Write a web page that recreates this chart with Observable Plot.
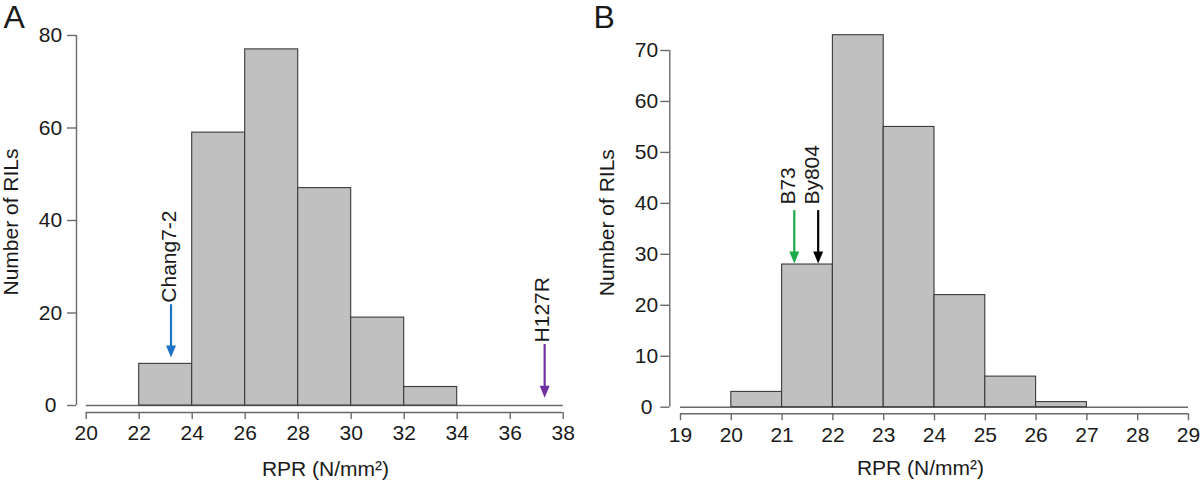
<!DOCTYPE html>
<html>
<head>
<meta charset="utf-8">
<script src="https://cdn.jsdelivr.net/npm/d3@7"></script>
<script src="https://cdn.jsdelivr.net/npm/@observablehq/plot@0.6"></script>
<style>
  body { margin: 0; background: #fff; }
  #wrap { display: flex; width: 1200px; height: 484px; overflow: hidden; }
  #wrap svg { display: block; flex: none; }
</style>
</head>
<body>
<div id="wrap"></div>
<script>
// ---------- Panel A data ----------
const binStartA = [22, 24, 26, 28, 30, 32];
const countA = [9, 59, 77, 47, 19, 4];
const binWidthA = 2;
const xTicksA = [20, 22, 24, 26, 28, 30, 32, 34, 36, 38];
const yTicksA = [0, 20, 40, 60, 80];
const parentNamesA = ["Chang7-2", "H127R"];
const parentRprA = [23.2, 37.3];
const arrowTopA = [20.5, 11.9];
const arrowTipA = [10.4, 1.7];
const parentColorsA = ["#1f72c4", "#7030a0"];

// ---------- Panel B data ----------
const binStartB = [20, 21, 22, 23, 24, 25, 26];
const countB = [3, 28, 73, 55, 22, 6, 1];
const binWidthB = 1;
const xTicksB = [19, 20, 21, 22, 23, 24, 25, 26, 27, 28, 29];
const yTicksB = [0, 10, 20, 30, 40, 50, 60, 70];
const parentNamesB = ["B73", "By804"];
const parentRprB = [21.24, 21.71];
const arrowTopB = [37.4, 37.4];
const arrowTipB = [28.2, 28.2];
const parentColorsB = ["#1aaa4a", "#000000"];

const yLabel = "Number of RILs";
const xLabel = "RPR (N/mm\u00B2)";

const FONT = "'Liberation Sans', Arial, Helvetica, sans-serif";
const axisColor = "#6a6a6a";
const textColor = "#1a1a1a";

// filled arrow head, tip at origin pointing down
const arrowHead = {
  draw(ctx) {
    const w = 5, l = 12;
    ctx.moveTo(0, 0);
    ctx.lineTo(-w, -l);
    ctx.lineTo(w, -l);
    ctx.closePath();
  }
};

function panel(cfg) {
  const bins = cfg.starts.map((s, i) => ({x1: s, x2: s + cfg.binWidth, n: cfg.counts[i]}));
  const ann = cfg.names.map((name, i) => ({
    name, x: cfg.rpr[i], top: cfg.top[i], tip: cfg.tip[i], color: cfg.colors[i]
  }));
  const xMin = cfg.xTicks[0], xMax = cfg.xTicks[cfg.xTicks.length - 1];
  const yMin = cfg.yTicks[0], yMax = cfg.yTicks[cfg.yTicks.length - 1];
  const frameBottom = cfg.height - cfg.marginBottom;

  const annMarks = ann.flatMap(a => [
    Plot.ruleX([a], {x: "x", y1: "top", y2: "tip", stroke: a.color, strokeWidth: 2.2, dy: -6}),
    Plot.dot([a], {x: "x", y: "tip", symbol: arrowHead, fill: a.color, stroke: "none", r: 5}),
    Plot.text([a], {x: "x", y: "top", text: "name", rotate: -90, textAnchor: "start",
      lineAnchor: "middle", dy: cfg.labelGap, dx: cfg.labelDx, fontSize: 21, fill: textColor})
  ]);

  return Plot.plot({
    width: cfg.width,
    height: cfg.height,
    marginLeft: cfg.marginLeft,
    marginRight: cfg.marginRight,
    marginTop: cfg.marginTop,
    marginBottom: cfg.marginBottom,
    style: {fontFamily: FONT, fontSize: "21px", color: textColor, background: "#fff", overflow: "visible"},
    x: {domain: [xMin, xMax], range: cfg.xRange},
    y: {domain: [yMin, yMax], range: cfg.yRange},
    marks: [
      // baseline at zero across full range
      Plot.ruleY([0], {x1: xMin, x2: xMax, stroke: axisColor, strokeWidth: 1.4}),
      Plot.rectY(bins, {x1: "x1", x2: "x2", y: "n", fill: "#c0c0c0", stroke: "#3a3a3a", strokeWidth: 1.1}),
      // x axis line (offset below zero)
      Plot.ruleY([0], {x1: xMin, x2: xMax, dy: frameBottom - cfg.yRange[0], stroke: axisColor, strokeWidth: 1.4}),
      // y axis line (offset left of first x)
      Plot.ruleX([xMin], {y1: yMin, y2: yMax, dx: cfg.marginLeft - cfg.xRange[0], stroke: axisColor, strokeWidth: 1.4}),
      Plot.axisX({ticks: cfg.xTicks, tickSize: 7, tickPadding: 6, label: null, stroke: axisColor,
        strokeWidth: 1.4, fill: textColor, fontSize: 21, tickFormat: d => String(d)}),
      Plot.axisY({ticks: cfg.yTicks, tickSize: 9, tickPadding: cfg.yPad, textAnchor: "middle", label: null,
        stroke: axisColor, strokeWidth: 1.4, fill: textColor, fontSize: 21, tickFormat: d => String(d)}),
      ...annMarks,
      Plot.text([yLabel], {text: d => d, frameAnchor: "left", rotate: -90, textAnchor: "middle",
        lineAnchor: "middle", dx: cfg.yLabelDx, dy: -2, fontSize: 21, fill: textColor}),
      Plot.text([xLabel], {text: d => d, frameAnchor: "bottom", lineAnchor: "top",
        dy: cfg.xLabelDy, fontSize: 21, fill: textColor}),
      Plot.text([cfg.letter], {text: d => d, frameAnchor: "top-left", textAnchor: "start",
        lineAnchor: "middle", dx: cfg.letterDx, dy: -18, fontSize: 32, fill: textColor})
    ]
  });
}

const wrap = document.getElementById("wrap");

wrap.appendChild(panel({
  letter: "A",
  starts: binStartA, counts: countA, binWidth: binWidthA,
  xTicks: xTicksA, yTicks: yTicksA,
  names: parentNamesA, rpr: parentRprA, top: arrowTopA, tip: arrowTipA, colors: parentColorsA,
  width: 590, height: 484,
  marginLeft: 76, marginRight: 16, marginTop: 35, marginBottom: 72,
  xRange: [85.7, 562.7], yRange: [405, 35],
  yPad: 17, yLabelDx: -65, xLabelDy: 49, letterDx: -73,
  labelGap: -8, labelDx: -2
}));

wrap.appendChild(panel({
  letter: "B",
  starts: binStartB, counts: countB, binWidth: binWidthB,
  xTicks: xTicksB, yTicks: yTicksB,
  names: parentNamesB, rpr: parentRprB, top: arrowTopB, tip: arrowTipB, colors: parentColorsB,
  width: 610, height: 484,
  marginLeft: 79.3, marginRight: 29.3, marginTop: 35, marginBottom: 70.7,
  xRange: [90, 598], yRange: [406.7, 50],
  yPad: 14.3, yLabelDx: -62.3, xLabelDy: 46, letterDx: -76.3,
  labelGap: -12, labelDx: -6
}));
</script>
</body>
</html>
